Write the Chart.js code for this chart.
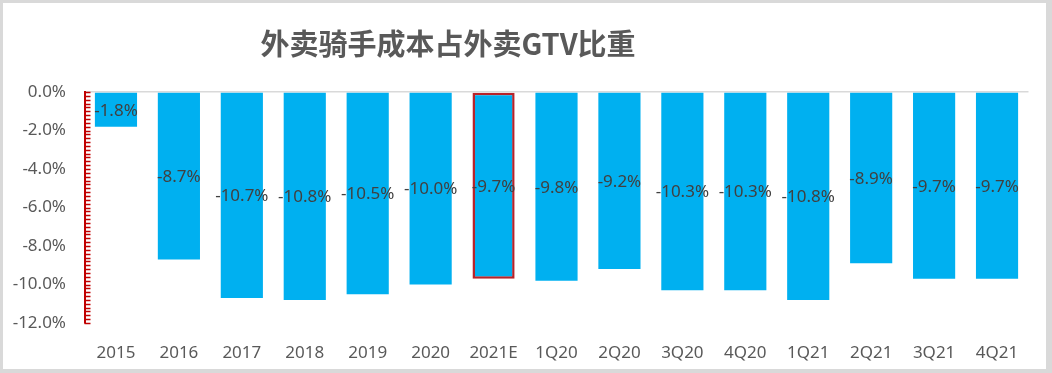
<html lang="zh">
<head>
    <meta charset="UTF-8">
    <title>外卖骑手成本占外卖GTV比重</title>
    <style>
        body { margin: 0; background: #fff; }
        #box {
            position: absolute; left: 0; top: 0;
            width: 1052px; height: 373px; box-sizing: border-box;
            border-style: solid; border-color: #d9d9d9;
            border-width: 3px 6px 4px 3px;
            background: #fff;
        }
    </style>
</head>
<body>
    <div id="box"><canvas id="myChart"></canvas></div>

    <script src="https://cdn.jsdelivr.net/npm/chart.js@4.4.0/dist/chart.umd.min.js"></script>
    <script>
        const chartTitle = '外卖骑手成本占外卖GTV比重';
        const periods = ['2015', '2016', '2017', '2018', '2019', '2020', '2021E', '1Q20', '2Q20', '3Q20', '4Q20', '1Q21', '2Q21', '3Q21', '4Q21'];
        const riderCostShare = [-1.8, -8.7, -10.7, -10.8, -10.5, -10.0, -9.7, -9.8, -9.2, -10.3, -10.3, -10.8, -8.9, -9.7, -9.7];
        const highlighted = '2021E';

        const axisFont = { family: 'Noto Sans', size: 17 };

        // title drawn off-centre like the original
        const titlePlugin = {
            id: 'titleText',
            afterDraw(chart) {
                const ctx = chart.ctx;
                ctx.save();
                ctx.font = 'bold 29px "Noto Sans CJK SC"';
                ctx.fillStyle = '#595959';
                ctx.textAlign = 'center';
                ctx.textBaseline = 'middle';
                ctx.fillText(chartTitle, 445, 41);
                ctx.restore();
            }
        };

        // red minor ticks on the inside of the value axis
        const axisTicks = {
            id: 'axisTicks',
            afterDatasetsDraw(chart) {
                const y = chart.scales.y;
                const ctx = chart.ctx;
                const x0 = chart.chartArea.left;
                ctx.save();
                ctx.strokeStyle = '#c00000';
                ctx.lineWidth = 1.5;
                for (let i = 0; i <= 60; i++) {
                    const py = Math.round(y.getPixelForValue(-i * 0.2)) + 0.5;
                    ctx.beginPath();
                    ctx.moveTo(x0, py);
                    ctx.lineTo(x0 + 6, py);
                    ctx.stroke();
                }
                ctx.restore();
            }
        };

        // value labels in the middle of each bar
        const barLabels = {
            id: 'barLabels',
            afterDatasetsDraw(chart) {
                const ctx = chart.ctx;
                const meta = chart.getDatasetMeta(0);
                ctx.save();
                ctx.font = '17px "Noto Sans"';
                ctx.fillStyle = '#404040';
                ctx.textAlign = 'center';
                ctx.textBaseline = 'middle';
                meta.data.forEach((bar, i) => {
                    const v = riderCostShare[i];
                    ctx.fillText(v.toFixed(1) + '%', bar.x, (bar.y + bar.base) / 2 + 1);
                });
                ctx.restore();
            }
        };

        const ctx = document.getElementById('myChart').getContext('2d');
        const myChart = new Chart(ctx, {
            type: 'bar',
            data: {
                labels: periods,
                datasets: [{
                    data: riderCostShare,
                    backgroundColor: '#00b0f0',
                    borderColor: periods.map(p => p === highlighted ? '#b8232a' : 'rgba(0,0,0,0)'),
                    borderWidth: periods.map(p => p === highlighted ? 2.5 : 0),
                    borderSkipped: false,
                    categoryPercentage: 1,
                    barPercentage: 0.67
                }]
            },
            options: {
                responsive: true,
                maintainAspectRatio: false,
                animation: false,
                layout: { padding: { top: 89, right: 17.5, bottom: 0, left: 0 } },
                plugins: {
                    legend: { display: false },
                    tooltip: { enabled: false }
                },
                scales: {
                    x: {
                        grid: { display: false },
                        border: { display: false },
                        ticks: { color: '#595959', font: axisFont, padding: 12, maxRotation: 0, autoSkip: false },
                        afterFit(scale) { scale.height = 46; }
                    },
                    y: {
                        min: -12,
                        max: 0,
                        ticks: {
                            stepSize: 2,
                            color: '#595959',
                            font: axisFont,
                            padding: 18.5,
                            callback: v => v.toFixed(1) + '%'
                        },
                        grid: {
                            drawTicks: false,
                            color: c => c.tick && c.tick.value === 0 ? '#d9d9d9' : 'rgba(0,0,0,0)',
                            lineWidth: 1.5
                        },
                        border: { color: '#c00000', width: 2 },
                        afterFit(scale) { scale.width = 81.5; }
                    }
                }
            },
            plugins: [titlePlugin, axisTicks, barLabels]
        });
    </script>
</body>
</html>
